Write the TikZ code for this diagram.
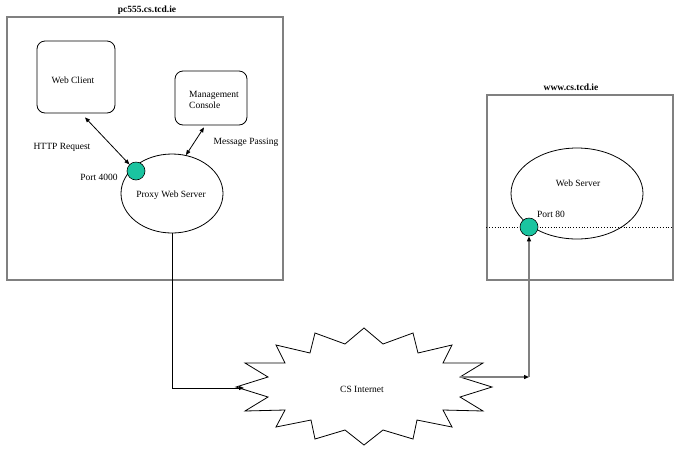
\documentclass[tikz,border=0pt]{standalone}
\usepackage{fontspec}
\setmainfont{Liberation Serif}
\usetikzlibrary{shapes.geometric,arrows.meta,calc}
\definecolor{portgreen}{RGB}{26,196,160}
\definecolor{hostgray}{RGB}{128,128,128}
\begin{document}
\begin{tikzpicture}[x=1pt,y=-1pt,
  every node/.style={font=\fontsize{9.5}{11}\selectfont, inner sep=0pt},
  hostbox/.style={draw=hostgray, line width=1.4pt, rectangle},
  title/.style={font=\fontsize{9.5}{11}\selectfont\bfseries},
  appbox/.style={draw, line width=0.8pt, rectangle, rounded corners=8pt},
  server/.style={draw, line width=0.8pt, ellipse},
  port/.style={draw, line width=0.6pt, circle, fill=portgreen, minimum size=18pt},
  tip/.style={-{Triangle[length=5pt,width=4pt,color=black]}},
  dtip/.style={{Triangle[length=5pt,width=4pt]}-{Triangle[length=5pt,width=4pt]}},
  link/.style={line width=0.8pt},
  glink/.style={draw=hostgray, line width=1.2pt}]
\useasboundingbox (0,0) rectangle (684,448);

% client machine
\node[hostbox, minimum width=276pt, minimum height=263pt] (pc) at (145,148.5) {};
\node[title] at (147,10) {pc555.cs.tcd.ie};
\node[appbox, minimum width=78pt, minimum height=72pt] (wc) at (76,77) {};
\node at (73,80) {Web Client};
\node[appbox, minimum width=72pt, minimum height=54pt] (mc) at (211,98) {};
\node[align=left] (mct) at (214,99.5) {Management\\Console};
\node[server, minimum width=102pt, minimum height=79pt] (pws) at (172,193.5) {};
\node at (171,195) {Proxy Web Server};
\node[port] (p4) at (136,171) {};
\node at (99,177) {Port 4000};
\node at (62,147) {HTTP Request};
\node at (246,142) {Message Passing};

\draw[link, dtip] ($(wc.south)+(9,4)$) -- (p4.north west);
\draw[link, dtip] ($(mc.south)+(-7,2)$) -- (pws.70);

% web server machine
\node[hostbox, minimum width=186pt, minimum height=185pt] (www) at (580,187.5) {};
\node[title] at (571,87) {www.cs.tcd.ie};
\draw[dotted, line width=0.8pt] (www.west |- 0,227) -- (www.east |- 0,227);
\node[server, minimum width=132pt, minimum height=91pt] (ws) at (577,193.5) {};
\node at (578,183) {Web Server};
\node[port] (p80) at (529,227) {};
\node at (551,214) {Port 80};

% internet cloud
\draw[line width=0.8pt, shift={(364,387)}]
  (0,-59) -- (19,-43) -- (49,-54) -- (54,-34) -- (88,-42) -- (79,-24)
  -- (119,-24) -- (96,-10) -- (128,0) -- (96,10) -- (119,24) -- (79,23)
  -- (88,40) -- (53,33) -- (49,52) -- (19,43) -- (0,58) -- (-19,43)
  -- (-49,52) -- (-53,33) -- (-88,40) -- (-79,23) -- (-119,24) -- (-96,10)
  -- (-128,0) -- (-96,-10) -- (-119,-24) -- (-79,-24) -- (-88,-42)
  -- (-54,-34) -- (-49,-54) -- (-19,-43) -- cycle;
\node (inet) at (362,389) {CS Internet};
\coordinate (inetW) at (244,388);
\coordinate (inetE) at (460,377);
\coordinate (turn) at (529,377);

% network links
\draw[link, tip] (pws.south) |- (inetW);
\draw[glink, tip] (inetE) -- (turn);
\draw[glink, tip] (turn) -- (p80.south);
\end{tikzpicture}
\end{document}
